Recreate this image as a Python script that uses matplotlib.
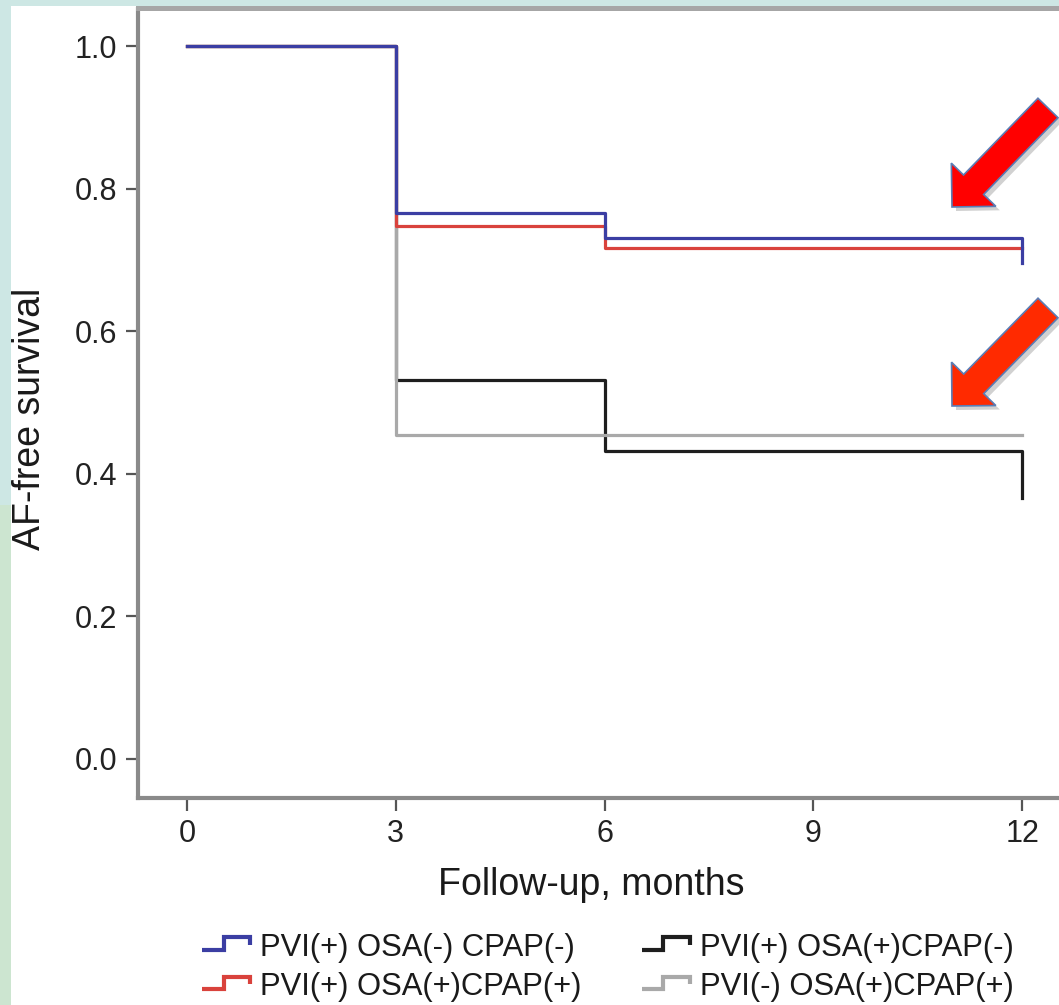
import numpy as np
import matplotlib
matplotlib.use("Agg")
import matplotlib.pyplot as plt
from matplotlib.lines import Line2D
from matplotlib.legend_handler import HandlerBase
from matplotlib.patches import Rectangle, FancyArrow
from matplotlib.transforms import IdentityTransform

plt.rcParams['font.family'] = ['Liberation Sans', 'DejaVu Sans']

# ---- data (Kaplan-Meier steps) ----
months = [0, 3, 6, 12]
blue_surv = [1.0, 0.766, 0.731, 0.696]     # PVI(+) OSA(-) CPAP(-)
red_surv = [1.0, 0.748, 0.717, 0.717]      # PVI(+) OSA(+)CPAP(+)
black_surv = [1.0, 0.532, 0.432, 0.366]    # PVI(+) OSA(+)CPAP(-)
gray_months = [0, 3, 12]
gray_surv = [1.0, 0.454, 0.454]            # PVI(-) OSA(+)CPAP(+)

labels = ["PVI(+) OSA(-) CPAP(-)", "PVI(+) OSA(+)CPAP(+)",
          "PVI(+) OSA(+)CPAP(-)", "PVI(-) OSA(+)CPAP(+)"]
xticks = [0, 3, 6, 9, 12]
yticks = [0.0, 0.2, 0.4, 0.6, 0.8, 1.0]

BLUE, RED, BLACK, GRAY = '#3b3ea3', '#d9423c', '#1e1e1e', '#a9a9a9'

W, H = 1059, 1005
fig = plt.figure(figsize=(W / 100, H / 100), dpi=100)
fig.patch.set_facecolor('white')

# decorative slide border
teal = '#cde7e4'
green = '#cce5d0'
fig.patches.append(Rectangle((0, 0), 11 / W, 500 / H, transform=fig.transFigure,
                             facecolor=green, edgecolor='none', zorder=-5))
fig.patches.append(Rectangle((0, 500 / H), 11 / W, 1, transform=fig.transFigure,
                             facecolor=teal, edgecolor='none', zorder=-5))
fig.patches.append(Rectangle((0, (H - 6) / H), 1, 6 / H, transform=fig.transFigure,
                             facecolor=teal, edgecolor='none', zorder=-5))

# axes placement (pixel based)
ax_l, ax_r, ax_t, ax_b = 138, 1070, 8.5, 798
ax = fig.add_axes([ax_l / W, (H - ax_b) / H, (ax_r - ax_l) / W, (ax_b - ax_t) / H])
ax.set_facecolor('none')

lw = 2.3
ax.step(months, black_surv, where='post', color=BLACK, lw=lw, zorder=2)
ax.step(gray_months, gray_surv, where='post', color=GRAY, lw=lw, zorder=3)
ax.step(months, red_surv, where='post', color=RED, lw=lw, zorder=4)
ax.step(months, blue_surv, where='post', color=BLUE, lw=lw, zorder=5)

ax.set_xlim(-0.704, 12.687)
ax.set_ylim(-0.0547, 1.0526)
ax.set_xticks(xticks)
ax.set_xticklabels([str(t) for t in xticks])
ax.set_yticks(yticks)
ax.set_yticklabels([f"{t:.1f}" for t in yticks])

for s in ['left', 'bottom']:
    ax.spines[s].set_color('#8a8a8a')
    ax.spines[s].set_linewidth(3.0)
ax.spines['top'].set_color('#a6a6a6')
ax.spines['top'].set_linewidth(3.6)
ax.spines['right'].set_visible(False)

ax.tick_params(axis='both', direction='out', length=9, width=1.6, color='#555555',
               labelsize=22, labelcolor='#222222', pad=6)

ax.set_xlabel("Follow-up, months", fontsize=27, color='#1a1a1a')
ax.xaxis.set_label_coords((591 - ax_l) / (ax_r - ax_l), -0.088)
ax.set_ylabel("AF-free survival", fontsize=27, color='#1a1a1a')
ax.yaxis.label.set_va('center')
ax.yaxis.set_label_coords((30 - ax_l) / (ax_r - ax_l), (ax_b - 419) / (ax_b - ax_t))


# step-shaped legend handles
class StepHandler(HandlerBase):
    def create_artists(self, legend, orig_handle, xdescent, ydescent,
                       width, height, fontsize, trans):
        xs = np.array([0, 0.45, 0.45, 1.0, 1.0]) * width - xdescent
        ys = np.array([0.15, 0.15, 1.0, 1.0, 0.5]) * height - ydescent
        ln = Line2D(xs, ys, color=orig_handle.get_color(),
                    lw=orig_handle.get_linewidth(), solid_joinstyle='miter',
                    solid_capstyle='butt')
        ln.set_transform(trans)
        return [ln]


handles = [Line2D([], [], color=BLUE, lw=3.0),
           Line2D([], [], color=RED, lw=3.0),
           Line2D([], [], color=BLACK, lw=3.0),
           Line2D([], [], color=GRAY, lw=3.0)]
leg = fig.legend(handles, labels, ncol=2, loc='upper left',
                 bbox_to_anchor=(202 / W, (H - 933) / H), frameon=False,
                 fontsize=22.3, handlelength=1.55, handleheight=0.36,
                 handletextpad=0.32, columnspacing=1.95, labelspacing=0.3,
                 borderpad=0, borderaxespad=0,
                 handler_map={Line2D: StepHandler()})
for t in leg.get_texts():
    t.set_color('#1a1a1a')


# red annotation arrows (pixel coordinates, y measured from top)
def add_arrow(tail, tip, color):
    tx, ty = tail[0], H - tail[1]
    dx, dy = tip[0] - tail[0], -(tip[1] - tail[1])
    shadow = FancyArrow(tx + 4, ty - 4, dx, dy, width=28, head_width=62, head_length=31,
                        length_includes_head=True, transform=IdentityTransform(),
                        facecolor='#000000', edgecolor='none', alpha=0.18, zorder=8)
    arr = FancyArrow(tx, ty, dx, dy, width=28, head_width=62, head_length=31,
                     length_includes_head=True, transform=IdentityTransform(),
                     facecolor=color, edgecolor='#5a7db5', lw=1.2, zorder=9)
    fig.patches.append(shadow)
    fig.patches.append(arr)


add_arrow((1048, 108), (952, 207), '#ff0000')
add_arrow((1048, 308), (952, 406), '#ff2a00')

fig.savefig('out.png', dpi=100)
